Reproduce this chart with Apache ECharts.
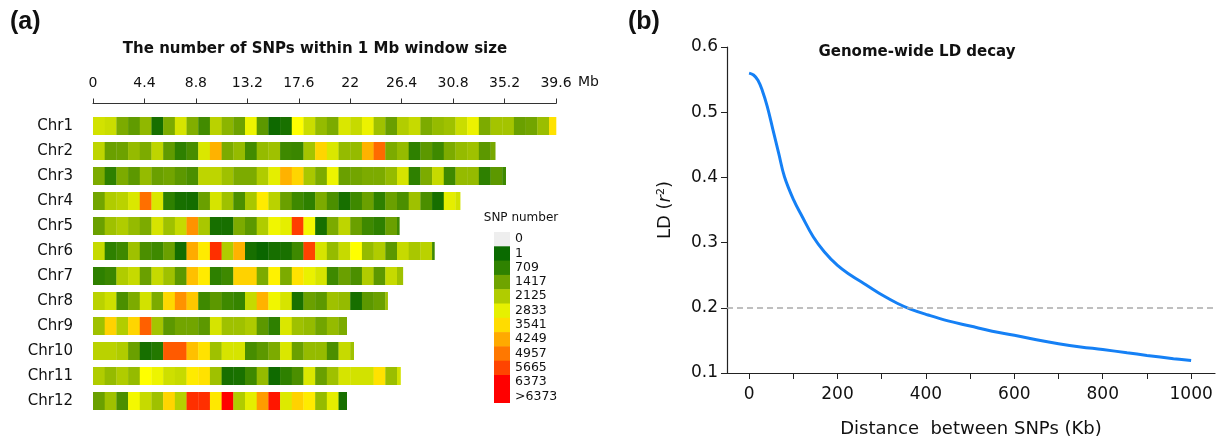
<!DOCTYPE html>
<html>
<head>
<meta charset="utf-8">
<script src="https://cdn.jsdelivr.net/npm/echarts@6/dist/echarts.min.js"></script>
<style>
html,body{margin:0;padding:0;background:#fff;}
#main{width:1224px;height:444px;}
</style>
</head>
<body>
<div id="main"></div>
<script>
// ---------- Panel (a): SNP density per 1 Mb window ----------
const chromosomes = ['Chr1','Chr2','Chr3','Chr4','Chr5','Chr6','Chr7','Chr8','Chr9','Chr10','Chr11','Chr12'];
const chrLengthMb = [39.6, 34.4, 35.3, 31.4, 26.2, 29.2, 26.5, 25.2, 21.7, 22.3, 26.3, 21.7];
const positionTicksMb = [0, 4.4, 8.8, 13.2, 17.6, 22, 26.4, 30.8, 35.2, 39.6];

const chr1Snp = [2550,2450,1600,1300,1800,250,1600,2600,1650,950, 2250,1750,1450,3000,1250,80,300,3541,2450,1850, 1600,2650,2400,2950,1950,1400,2150,2400,1600,1850, 1950,2450,2950,1600,2000,2000,1417,1500,1900,4000];
const chr2Snp = [2300,1417,1450,1850,1600,2300,1300,700,1000,2650, 4700,1600,1850,950,1850,1950,900,850,2000,4200, 2650,1850,1850,4700,5500,1600,1850,709,1250,900, 1600,1850,1950,1250,1550];
const chr3Snp = [1600,709,1600,1250,1850,1417,1500,1250,1050,2300, 2300,1950,1600,1600,2125,2800,4700,4200,2050,1600, 3000,1417,1500,1600,1600,1850,2600,709,1600,2400, 900,1850,1850,709,1250,900];
const chr4Snp = [1500,2125,2250,2650,5450,2650,709,250,200,1417, 2600,1950,1050,2050,3850,2250,1417,900,709,1600, 1050,250,900,1417,709,1417,1050,1950,1050,250, 2800,2550];
const chr5Snp = [1417,1950,2125,1850,1600,2600,1950,2400,5100,2050, 250,250,1600,1250,2125,3100,2800,5900,3200,250, 1600,2300,1417,900,709,1417,900];
const chr6Snp = [2400,709,900,1950,1050,900,1417,200,4800,3850, 6000,2125,4700,250,0,250,300,900,5850,2600, 1850,2400,3541,1850,2125,1250,2400,2050,2250,900];
const chr7Snp = [709,850,2125,2400,1417,2400,1950,1250,4500,3850, 709,900,4249,4249,1600,3750,1600,4000,2900,2600, 900,1417,1050,2125,1250,2400,1950];
const chr8Snp = [2250,2500,1050,1600,2550,1600,4150,5100,4400,900, 1250,900,800,2400,4700,3100,2600,300,1417,1250, 1950,1850,250,1250,1417,1950];
const chr9Snp = [1950,4249,2150,4200,5600,2000,1250,1500,1500,1250, 2600,1950,1950,2100,1250,709,2650,1950,1850,1500, 1850,1600];
const chr10Snp = [2250,2250,2125,1417,250,500,5665,5665,4500,4000, 1950,2600,2600,1000,1250,1600,2650,1417,1850,1850, 1050,2400,1950];
const chr11Snp = [2125,1850,2125,1850,3541,3000,2500,2400,3850,4000, 1950,250,300,900,1850,100,709,1050,2650,1417, 1950,2600,2550,2550,4000,1900,2550];
const chr12Snp = [1417,1950,1050,3200,2400,1950,4200,2200,6000,6000, 3900,6373,2125,2800,5000,6200,2700,4249,3850,1850, 2800,250];
const snpByChr = [chr1Snp,chr2Snp,chr3Snp,chr4Snp,chr5Snp,chr6Snp,chr7Snp,chr8Snp,chr9Snp,chr10Snp,chr11Snp,chr12Snp];

const legendLabels = ['0','1','709','1417','2125','2833','3541','4249','4957','5665','6373','>6373'];
const legendColors = ['#eeeeee','#0a6a00','#2f8200','#6fa400','#b0cc00','#e6f000','#ffdc00','#ffaa00','#ff7800','#ff4400','#ff0000'];
const scaleColors = ['#0a6600','#2e8000','#6aa000','#b0cc00','#e8f000','#ffff00','#ffd200','#ffa000','#ff5a00','#ff0000'];

// ---------- Panel (b): LD decay ----------
const ldDistanceKb = [0,10,20,30,41,54,67,80,101,120,145,170,200,230,265,305,335,365,405,450,500,550,600,650,700,750,800,855,900,960,1000];
const ldR2 = [0.560,0.557,0.549,0.533,0.509,0.473,0.437,0.401,0.365,0.340,0.309,0.286,0.265,0.250,0.235,0.218,0.207,0.198,0.189,0.180,0.172,0.164,0.158,0.151,0.145,0.140,0.136,0.131,0.127,0.122,0.119];
const ldThreshold = 0.2;
const ldTickKb = [0,100,200,300,400,500,600,700,800,900,1000];
const ldLabelKb = [0,200,400,600,800,1000];

// build window cells [start, end, chrIndex, snp]
const cells = [];
snpByChr.forEach((arr, ci) => {
  arr.forEach((v, j) => {
    cells.push([j, Math.min(j + 1, chrLengthMb[ci]), ci, v]);
  });
});

const chart = echarts.init(document.getElementById('main'), null, {renderer: 'canvas'});
const FONT = '"DejaVu Sans", sans-serif';

// legend graphics
const legendGraphics = [];
const lgX = 494, lgTop = 232, lgStep = 14.3, lgW = 16;
legendColors.forEach((c, i) => {
  const h = (i === legendColors.length - 1) ? (403 - (lgTop + lgStep * i)) : lgStep + 0.5;
  legendGraphics.push({type:'rect', silent:true, shape:{x:lgX, y:lgTop + lgStep * i, width:lgW, height:h}, style:{fill:c}});
});
legendLabels.forEach((t, i) => {
  legendGraphics.push({type:'text', silent:true, x:515, y:239 + lgStep * i,
    style:{text:t, fontSize:12.5, fontFamily:FONT, fill:'#111', align:'left', verticalAlign:'middle'}});
});
legendGraphics.push({type:'text', silent:true, x:521, y:218,
  style:{text:'SNP number', fontSize:12, fontFamily:FONT, fill:'#111', align:'center', verticalAlign:'middle'}});

const option = {
  animation: false,
  backgroundColor: '#fff',
  grid: [
    {left: 93, top: 113.5, width: 463, height: 300},
    {left: 727, top: 47, width: 488, height: 326}
  ],
  visualMap: [{
    type: 'continuous', show: false, seriesIndex: 0, dimension: 3,
    min: 1, max: 6373,
    inRange: {color: scaleColors},
    outOfRange: {color: ['#eeeeee']}
  }],
  xAxis: [
    {
      gridIndex: 0, type: 'value', position: 'top', offset: 10,
      min: 0, max: 39.6, interval: 4.4,
      axisLine: {show: true, onZero: false, lineStyle: {color: '#333', width: 1}},
      axisTick: {show: true, length: 5, lineStyle: {color: '#333'}},
      axisLabel: {fontSize: 14, fontFamily: FONT, color: '#111', margin: 13,
        formatter: v => String(+(+v).toFixed(1))},
      splitLine: {show: false}
    },
    {
      gridIndex: 1, type: 'value', min: -50, max: 1054,
      axisLine: {show: true, onZero: false, lineStyle: {color: '#222', width: 1.2}},
      axisTick: {show: true, length: 6, customValues: ldTickKb, lineStyle: {color: '#222'}},
      axisLabel: {fontSize: 17, fontFamily: FONT, color: '#111', margin: 13, customValues: ldLabelKb,
        formatter: v => String(Math.round(v))},
      splitLine: {show: false},
      name: 'Distance  between SNPs (Kb)', nameLocation: 'middle', nameGap: 47,
      nameTextStyle: {fontSize: 18, fontFamily: FONT, color: '#111'}
    }
  ],
  yAxis: [
    {
      gridIndex: 0, type: 'category', data: chromosomes, inverse: true,
      axisLine: {show: false}, axisTick: {show: false},
      axisLabel: {fontSize: 15, fontFamily: FONT, color: '#111', margin: 20},
      splitLine: {show: false}
    },
    {
      gridIndex: 1, type: 'value', min: 0.1, max: 0.6, interval: 0.1,
      axisLine: {show: true, onZero: false, lineStyle: {color: '#222', width: 1.2}},
      axisTick: {show: true, length: 6, lineStyle: {color: '#222'}},
      axisLabel: {fontSize: 17, fontFamily: FONT, color: '#111', margin: 9,
        formatter: v => (+v).toFixed(1)},
      splitLine: {show: false},
      name: '{n|LD (}{i|r}{s|2}{n|)}', nameLocation: 'middle', nameGap: 52, nameRotate: 90,
      nameTextStyle: {
        fontSize: 18, fontFamily: FONT, color: '#111',
        rich: {
          n: {fontSize: 18, fontFamily: FONT, color: '#111'},
          i: {fontSize: 18, fontFamily: FONT, fontStyle: 'italic', color: '#111'},
          s: {fontSize: 11, fontFamily: FONT, color: '#111', verticalAlign: 'top', padding: [0, 0, 8, 0]}
        }
      }
    }
  ],
  series: [
    {
      type: 'custom', xAxisIndex: 0, yAxisIndex: 0, silent: true,
      encode: {x: [0, 1], y: 2},
      data: cells,
      renderItem: function (params, api) {
        const p0 = api.coord([api.value(0), api.value(2)]);
        const p1 = api.coord([api.value(1), api.value(2)]);
        const h = api.size([0, 1])[1] * 0.72;
        return {
          type: 'rect',
          shape: {x: p0[0], y: p0[1] - h / 2, width: p1[0] - p0[0] + 0.3, height: h},
          style: {fill: api.visual('color')}
        };
      }
    },
    {
      type: 'line', xAxisIndex: 1, yAxisIndex: 1,
      data: ldDistanceKb.map((d, i) => [d, ldR2[i]]),
      smooth: 0.4, showSymbol: false, symbol: 'none',
      lineStyle: {color: '#1580f5', width: 3},
      markLine: {
        silent: true, symbol: 'none', label: {show: false},
        lineStyle: {color: '#aaaaaa', type: [6, 4], width: 1.5},
        data: [{yAxis: ldThreshold}]
      }
    }
  ],
  graphic: [
    {type:'text', silent:true, x:10, y:22, style:{text:'(a)', fontSize:25, fontWeight:'bold', fontFamily:'"Liberation Sans", Arial, sans-serif', fill:'#111', align:'left', verticalAlign:'middle'}},
    {type:'text', silent:true, x:628, y:22, style:{text:'(b)', fontSize:25, fontWeight:'bold', fontFamily:'"Liberation Sans", Arial, sans-serif', fill:'#111', align:'left', verticalAlign:'middle'}},
    {type:'text', silent:true, x:315, y:49, style:{text:'The number of SNPs within 1 Mb window size', fontSize:15, fontWeight:'bold', fontFamily:FONT, fill:'#111', align:'center', verticalAlign:'middle'}},
    {type:'text', silent:true, x:578, y:82, style:{text:'Mb', fontSize:14, fontFamily:FONT, fill:'#111', align:'left', verticalAlign:'middle'}},
    {type:'text', silent:true, x:917, y:52, style:{text:'Genome-wide LD decay', fontSize:15, fontWeight:'bold', fontFamily:FONT, fill:'#111', align:'center', verticalAlign:'middle'}}
  ].concat(legendGraphics)
};
chart.setOption(option);
</script>
</body>
</html>
